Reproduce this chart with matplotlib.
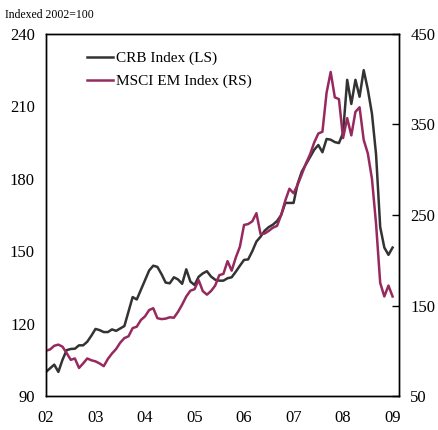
import matplotlib.pyplot as plt
import numpy as np

plt.rcParams['font.family'] = ['Liberation Serif', 'DejaVu Serif']

# Monthly data, Jan 2002 - Jan 2009 (indexed 2002=100)
crb = [100, 101.5, 103, 100, 105, 109, 109.5, 109.6, 111, 111, 112.5, 115,
       117.8, 117.3, 116.5, 116.5, 117.6, 117, 118, 119, 125, 131, 130, 134,
       138, 142, 144, 143.5, 140.5, 137, 136.7, 139.2, 138.3, 136.5, 142.5, 137.4,
       136, 139.4, 140.8, 141.7, 139.5, 138.2, 137.8, 137.8, 138.8, 139.2, 141.5, 144,
       146.4, 146.6, 150, 154, 156, 158.5, 160, 161, 162.5, 165, 170, 170,
       170, 178, 183, 186, 189, 192, 194, 191, 196.5, 196.2, 195.2, 194.8,
       199, 221, 211, 221, 214, 225, 217, 207, 190, 160, 151.5, 148.5,
       151.5]
msci = [100, 101.5, 105.5, 106.8, 104.5, 97.5, 90, 91.5, 81, 86, 91.5, 89.5,
        88.3, 86, 83, 91, 97, 102, 109, 114, 116, 125, 126.6, 134,
        138, 145, 147, 136, 135, 135.5, 137, 136.5, 143, 151, 160, 166.4,
        168, 178, 166, 162, 166, 172, 183.5, 185, 199, 188.5, 203, 215,
        239, 240, 243, 252, 229, 229.5, 232.5, 236, 238, 250, 266, 279,
        274, 283.5, 295, 307, 317, 330, 340, 342, 385, 408, 380, 378,
        335, 357, 338, 364, 369, 333, 318, 290, 240, 175, 160, 172,
        160]
years = 2002 + np.arange(len(crb)) / 12
year_ticks = [2002, 2003, 2004, 2005, 2006, 2007, 2008, 2009]
year_labels = ['02', '03', '04', '05', '06', '07', '08', '09']

fig = plt.figure(figsize=(4.38, 4.30), dpi=100)
ax = fig.add_axes([0.105, 0.079, 0.806, 0.842])
ax2 = ax.twinx()

l1, = ax.plot(years, crb, color='#333333', lw=1.8, label='CRB Index (LS)')
l2, = ax2.plot(years, msci, color='#962a5e', lw=1.8, label='MSCI EM Index (RS)')

ax.set_xlim(2002, 2009.13)
ax.set_ylim(90, 240)
ax.set_yticks([90, 120, 150, 180, 210, 240])
ax.set_xticks(year_ticks)
ax.set_xticklabels(year_labels)
ax.tick_params(axis='both', length=0, labelsize=12, pad=8)
ax.tick_params(axis='x', pad=10)

ax2.set_ylim(50, 450)
ax2.set_yticks([50, 150, 250, 350, 450])
ax2.tick_params(axis='y', direction='in', length=5, width=1, labelsize=12, pad=8)

for a in (ax, ax2):
    for s in a.spines.values():
        s.set_linewidth(1)

ax.legend(handles=[l1, l2], loc='upper left', bbox_to_anchor=(0.078, 0.99),
          frameon=False, fontsize=11, handlelength=1.7, handletextpad=0.15,
          labelspacing=0.6)

fig.text(0.012, 0.958, 'Indexed 2002=100', fontsize=8.5)

fig.savefig('out.png', dpi=100)
